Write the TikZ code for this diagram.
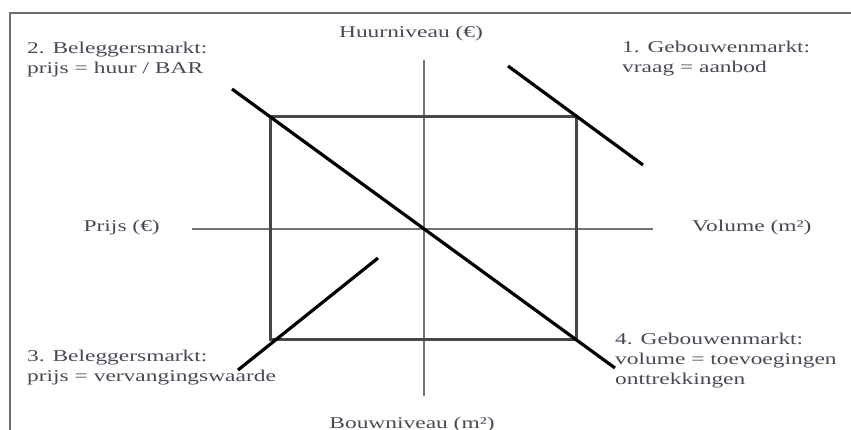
\documentclass[tikz,border=0pt]{standalone}
\usepackage{fontspec}
\setmainfont[FakeStretch=1.42]{Liberation Serif}
\definecolor{txtgray}{RGB}{72,72,86}
\definecolor{framegray}{RGB}{110,110,110}
\definecolor{rectgray}{RGB}{70,70,70}
\definecolor{axisgray}{RGB}{115,115,115}
\begin{document}
\begin{tikzpicture}[x=1pt,y=-1pt,
  lbl/.style={text=txtgray, font=\fontsize{16.5}{20}\selectfont, inner sep=0pt, align=left},
  framestyle/.style={draw=framegray, line width=2.8pt},
  axisline/.style={draw=axisgray, line width=1.6pt},
  boxline/.style={draw=rectgray, line width=3pt},
  curveline/.style={draw=black, line width=3.2pt}]
\useasboundingbox (0,0) rectangle (851,430);
% frame
\coordinate (fl) at (10,430);
\coordinate (ftl) at (10,13);
\coordinate (fr) at (851,13);
\draw[framestyle] (fl) -- (ftl) -- (fr);
% axes
\coordinate (vt) at (424,60);
\coordinate (vb) at (424,396);
\coordinate (hl) at (192,229);
\coordinate (hr) at (653,229);
\draw[axisline] (vt) -- (vb);
\draw[axisline] (hl) -- (hr);
% rectangle
\coordinate (rtl) at (270,117);
\coordinate (rtr) at (576,117);
\coordinate (rbr) at (576,339);
\coordinate (rbl) at (270,339);
\draw[boxline] (rtl) -- (rtr) -- (rbr) -- (rbl) -- cycle;
% market lines
\coordinate (d1) at (232,89);
\coordinate (d2) at (615,368);
\draw[curveline] (d1) -- (d2);
\coordinate (g1) at (508,66);
\coordinate (g2) at (643,165);
\draw[curveline] (g1) -- (g2);
\coordinate (b1) at (238,370);
\coordinate (b2) at (378,258);
\draw[curveline] (b1) -- (b2);
% labels
\node[lbl, anchor=base] (huur) at (411,38) {Huurniveau (€)};
\node[lbl, anchor=base] (bouw) at (412,428) {Bouwniveau (m²)};
\node[lbl, anchor=base east] (prijs) at (160,232) {Prijs (€)};
\node[lbl, anchor=base west] (vol) at (692,232) {Volume (m²)};
\node[lbl, anchor=base west] (q2) at (27,74) {2. Beleggersmarkt:\\prijs = huur / BAR};
\node[lbl, anchor=base west] (q1) at (622,73) {1. Gebouwenmarkt:\\vraag = aanbod};
\node[lbl, anchor=base west] (q3) at (27,381) {3. Beleggersmarkt:\\prijs = vervangingswaarde};
\node[lbl, anchor=base west] (q4) at (615,384) {4. Gebouwenmarkt:\\volume = toevoegingen\\onttrekkingen};
\end{tikzpicture}
\end{document}
